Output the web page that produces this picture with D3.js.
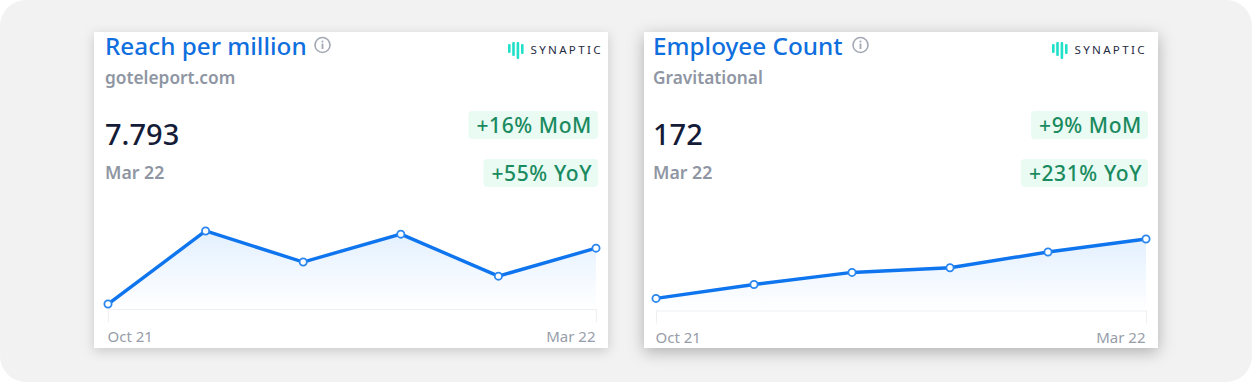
<!DOCTYPE html>
<html>
<head>
<meta charset="utf-8">
<script src="https://cdnjs.cloudflare.com/ajax/libs/d3/7.8.5/d3.min.js"></script>
<style>
    html, body { margin: 0; padding: 0; background: #fff; }
    svg { display: block; }
    text { font-family: "Noto Sans", "Open Sans", sans-serif; }
</style>
</head>
<body>
<div id="chart"></div>
<script>
const months = ['Oct 21', 'Nov 21', 'Dec 21', 'Jan 22', 'Feb 22', 'Mar 22'];
const tickLabels = ['Oct 21', 'Mar 22'];
const reachValues = [5.65, 8.45, 7.26, 8.33, 6.72, 7.793];
const employeeValues = [108, 123, 136, 141, 158, 172];

const cards = [
    {
        left: 94, title: 'Reach per million', subtitle: 'goteleport.com', latest: '7.793',
        latestDate: 'Mar 22', mom: '+16% MoM', yoy: '+55% YoY', values: reachValues,
        domain: [5.46, 8.45], plotX: [108, 596], plotY: [309, 231], infoX: 322.5, logoX: 508,
        shadow: 'drop-shadow(0 3px 6px rgba(0,0,0,0.17))'
    },
    {
        left: 644, title: 'Employee Count', subtitle: 'Gravitational', latest: '172',
        latestDate: 'Mar 22', mom: '+9% MoM', yoy: '+231% YoY', values: employeeValues,
        domain: [95, 172], plotX: [656, 1146], plotY: [310.5, 239], infoX: 860.5, logoX: 1052,
        shadow: 'drop-shadow(0 4px 8px rgba(0,0,0,0.28))'
    }
];

const svg = d3.select('#chart').append('svg')
    .attr('width', 1252)
    .attr('height', 382);

svg.append('rect')
    .attr('width', 1252)
    .attr('height', 382)
    .attr('rx', 26)
    .attr('fill', '#f2f2f2');

const defs = svg.append('defs');

function drawBadge(g, label, right, top, height) {
    const badge = g.append('g');
    const text = badge.append('text')
        .attr('x', right - 6)
        .attr('y', top + height / 2 + 7.5)
        .attr('text-anchor', 'end')
        .attr('font-size', 21)
        .attr('font-weight', 500)
        .attr('letter-spacing', 0.6)
        .attr('fill', '#1a8a5f')
        .text(label);
    const width = text.node().getComputedTextLength() + 14;
    badge.insert('rect', 'text')
        .attr('x', right - width)
        .attr('y', top)
        .attr('width', width)
        .attr('height', height)
        .attr('rx', 4)
        .attr('fill', '#e9fbf3');
}

function drawLogo(g, x) {
    const bars = [[0, 44, 9], [4.2, 42, 14], [8.6, 42, 17], [13, 44, 10]];
    g.selectAll('rect.logo')
        .data(bars)
        .join('rect')
        .attr('class', 'logo')
        .attr('x', d => x + d[0])
        .attr('y', d => d[1])
        .attr('width', 2.6)
        .attr('height', d => d[2])
        .attr('rx', 1)
        .attr('fill', '#1fe0c8');
    g.append('text')
        .attr('x', x + 22.5)
        .attr('y', 54.3)
        .attr('font-size', 11.6)
        .attr('letter-spacing', 2.3)
        .attr('fill', '#1f2a44')
        .attr('font-family', 'Inter, sans-serif')
        .text('SYNAPTIC');
}

function drawInfo(g, x) {
    g.append('circle')
        .attr('cx', x)
        .attr('cy', 45)
        .attr('r', 7.5)
        .attr('fill', 'none')
        .attr('stroke', '#a3a9b4')
        .attr('stroke-width', 1.6);
    g.append('rect')
        .attr('x', x - 0.9)
        .attr('y', 43.5)
        .attr('width', 1.8)
        .attr('height', 5.5)
        .attr('fill', '#a3a9b4');
    g.append('rect')
        .attr('x', x - 0.9)
        .attr('y', 40.6)
        .attr('width', 1.8)
        .attr('height', 1.8)
        .attr('fill', '#a3a9b4');
}

cards.forEach((card, i) => {
    const g = svg.append('g').attr('id', `card-${i}`);

    g.append('rect')
        .attr('x', card.left)
        .attr('y', 32)
        .attr('width', 514)
        .attr('height', 316)
        .attr('fill', '#fff')
        .style('filter', card.shadow);

    const textLeft = card.left + (i == 0 ? 11 : 9);
    const cardRight = card.left + 514;

    g.append('text')
        .attr('x', textLeft)
        .attr('y', 55)
        .attr('font-size', 24.3)
        .attr('font-weight', 500)
        .attr('fill', '#0f6fde')
        .text(card.title);
    g.append('text')
        .attr('x', textLeft)
        .attr('y', 84)
        .attr('font-size', 17.3)
        .attr('font-weight', 600)
        .attr('fill', '#8f96a3')
        .text(card.subtitle);
    g.append('text')
        .attr('x', textLeft)
        .attr('y', 145)
        .attr('font-size', 29)
        .attr('font-weight', 500)
        .attr('fill', '#141c38')
        .text(card.latest);
    g.append('text')
        .attr('x', textLeft)
        .attr('y', 179)
        .attr('font-size', 17.7)
        .attr('font-weight', 600)
        .attr('fill', '#8f96a3')
        .text(card.latestDate);

    drawInfo(g, card.infoX);
    drawLogo(g, card.logoX);
    drawBadge(g, card.mom, cardRight - 10, 111, 28);
    drawBadge(g, card.yoy, cardRight - 10, 159, 28);

    const x = d3.scalePoint()
        .domain(months)
        .range(card.plotX);
    const y = d3.scaleLinear()
        .domain(card.domain)
        .range(card.plotY);

    const gradientId = `area-gradient-${i}`;
    const gradient = defs.append('linearGradient')
        .attr('id', gradientId)
        .attr('gradientUnits', 'userSpaceOnUse')
        .attr('x1', 0).attr('x2', 0)
        .attr('y1', card.plotY[1])
        .attr('y2', card.plotY[0]);
    gradient.append('stop').attr('offset', 0).attr('stop-color', '#e3f0ff');
    gradient.append('stop').attr('offset', 1).attr('stop-color', '#ffffff');

    const rows = months.map((m, j) => ({month: m, value: card.values[j]}));

    const area = d3.area()
        .x(d => x(d.month))
        .y0(card.plotY[0])
        .y1(d => y(d.value));
    const line = d3.line()
        .x(d => x(d.month))
        .y(d => y(d.value));

    g.append('path')
        .datum(rows)
        .attr('d', area)
        .attr('fill', `url(#${gradientId})`);

    const axis = d3.axisBottom(x)
        .tickValues(tickLabels)
        .tickSize(13)
        .tickSizeOuter(0)
        .tickPadding(9);
    const axisG = g.append('g')
        .attr('transform', `translate(0,${card.plotY[0]})`)
        .call(axis);
    axisG.select('.domain').attr('stroke', '#eeeff2');
    axisG.selectAll('.tick line').attr('stroke', '#eeeff2');
    axisG.selectAll('.tick text')
        .attr('font-family', null)
        .attr('font-size', 15)
        .attr('fill', '#979da9')
        .attr('dx', -1)
        .attr('text-anchor', d => d == tickLabels[0] ? 'start' : 'end');

    g.append('path')
        .datum(rows)
        .attr('d', line)
        .attr('fill', 'none')
        .attr('stroke', '#0f75ee')
        .attr('stroke-width', 3.4);

    g.selectAll('circle.point')
        .data(rows)
        .join('circle')
        .attr('class', 'point')
        .attr('cx', d => x(d.month))
        .attr('cy', d => y(d.value))
        .attr('r', 3.6)
        .attr('fill', '#fff')
        .attr('stroke', '#2a86f0')
        .attr('stroke-width', 1.8);
});
</script>
</body>
</html>
